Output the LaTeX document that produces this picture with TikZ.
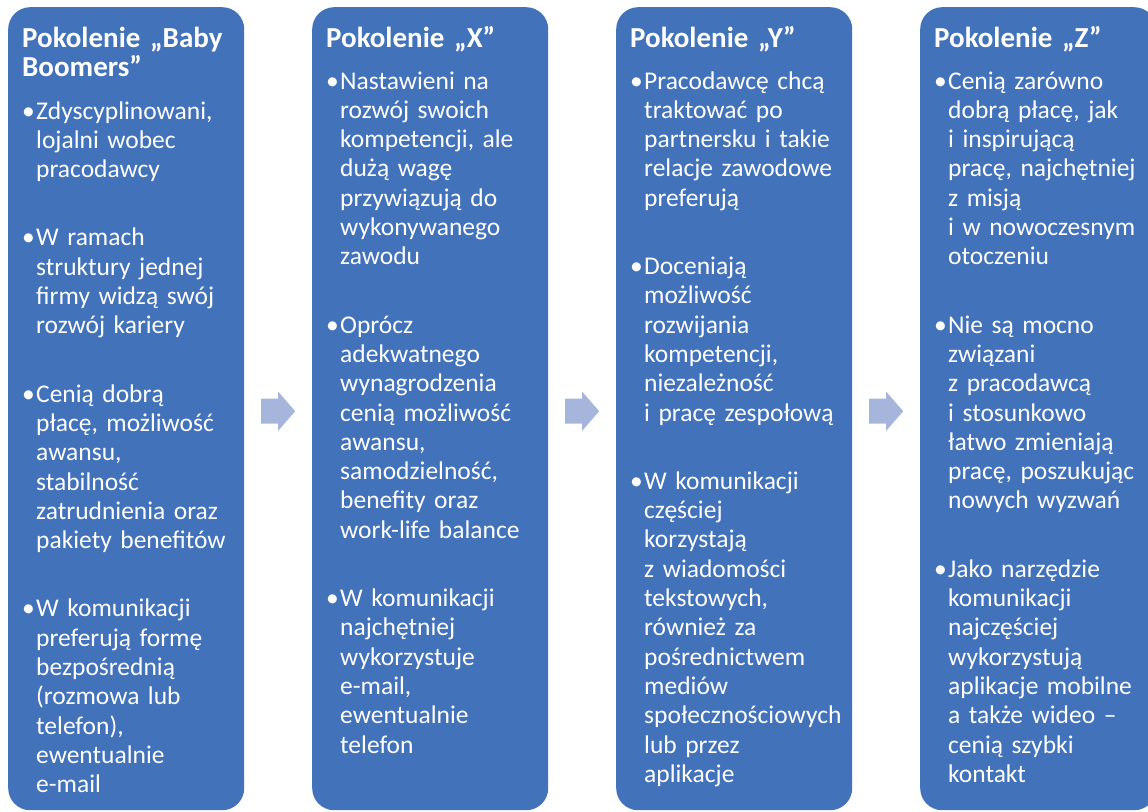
\documentclass[tikz,border=0pt]{standalone}
\usepackage{fontspec}
\setmainfont{Carlito}
\usepackage{tikz}
\usetikzlibrary{positioning, calc}

\definecolor{boxblue}{RGB}{65, 114, 186}
\definecolor{arrowblue}{RGB}{166, 181, 219}

\newcommand{\bitem}[1]{\hangindent=14pt\hangafter=1\noindent\makebox[14pt][l]{•}{\let\\\newline#1}\par}

\tikzset{
  genbox/.style={fill=boxblue, rounded corners=22pt, minimum width=236pt, minimum height=803pt, anchor=north west, inner sep=0pt},
  gentitle/.style={text=white, font=\fontsize{29}{29}\selectfont\bfseries, text width=225pt, align=left, anchor=base west, inner sep=0pt},
  genlist/.style={text=white, font=\fontsize{25.5}{29.3}\selectfont, text width=260pt, align=left, anchor=base west, inner sep=0pt},
  pics/flowarrow/.style={code={
    \fill[arrowblue] (-17,-12.5) -- (0,-12.5) -- (0,-19.5) -- (17,0) -- (0,19.5) -- (0,12.5) -- (-17,12.5) -- cycle;
  }}
}

\begin{document}
\begin{tikzpicture}[x=1pt, y=-1pt]
  \path[use as bounding box, clip] (0,0) rectangle (1148,811);

  % Four generation columns
  \node[genbox] (g1) at (8,7) {};
  \node[genbox] (g2) at (312,7) {};
  \node[genbox] (g3) at (616,7) {};
  \node[genbox] (g4) at (920,7) {};

  % Arrows between columns
  \pic at ($(g1.east)!0.5!(g2.west)+(0,2.5)$) {flowarrow};
  \pic at ($(g2.east)!0.5!(g3.west)+(0,2.5)$) {flowarrow};
  \pic at ($(g3.east)!0.5!(g4.west)+(0,2.5)$) {flowarrow};

  % Baby Boomers
  \node[gentitle] (t1) at ($(g1.north west)+(14,40)$) {Pokolenie „Baby\\Boomers”};
  \node[genlist] (l1) at ($(g1.north west)+(14,112)$) {\setlength{\parskip}{39pt}%
    \bitem{Zdyscyplinowani,\\lojalni wobec\\pracodawcy}
    \bitem{W ramach\\struktury jednej\\firmy widzą swój\\rozwój kariery}
    \bitem{Cenią dobrą\\płacę, możliwość\\awansu,\\stabilność\\zatrudnienia oraz\\pakiety benefitów}
    \bitem{W komunikacji\\preferują formę\\bezpośrednią\\(rozmowa lub\\telefon),\\ewentualnie\\e-mail}};

  % X
  \node[gentitle] (t2) at ($(g2.north west)+(14,40)$) {Pokolenie „X”};
  \node[genlist] (l2) at ($(g2.north west)+(14,82)$) {\setlength{\parskip}{39pt}%
    \bitem{Nastawieni na\\rozwój swoich\\kompetencji, ale\\dużą wagę\\przywiązują do\\wykonywanego\\zawodu}
    \bitem{Oprócz\\adekwatnego\\wynagrodzenia\\cenią możliwość\\awansu,\\samodzielność,\\benefity oraz\\work-life balance}
    \bitem{W komunikacji\\najchętniej\\wykorzystuje\\e-mail,\\ewentualnie\\telefon}};

  % Y
  \node[gentitle] (t3) at ($(g3.north west)+(14,40)$) {Pokolenie „Y”};
  \node[genlist] (l3) at ($(g3.north west)+(14,82)$) {\setlength{\parskip}{39pt}%
    \bitem{Pracodawcę chcą\\traktować po\\partnersku i takie\\relacje zawodowe\\preferują}
    \bitem{Doceniają\\możliwość\\rozwijania\\kompetencji,\\niezależność\\i pracę zespołową}
    \bitem{W komunikacji\\częściej\\korzystają\\z wiadomości\\tekstowych,\\również za\\pośrednictwem\\mediów\\społecznościowych\\lub przez\\aplikacje}};

  % Z
  \node[gentitle] (t4) at ($(g4.north west)+(14,40)$) {Pokolenie „Z”};
  \node[genlist] (l4) at ($(g4.north west)+(14,82)$) {\setlength{\parskip}{39pt}%
    \bitem{Cenią zarówno\\dobrą płacę, jak\\i inspirującą\\pracę, najchętniej\\z misją\\i w nowoczesnym\\otoczeniu}
    \bitem{Nie są mocno\\związani\\z pracodawcą\\i stosunkowo\\łatwo zmieniają\\pracę, poszukując\\nowych wyzwań}
    \bitem{Jako narzędzie\\komunikacji\\najczęściej\\wykorzystują\\aplikacje mobilne\\a także wideo –\\cenią szybki\\kontakt}};
\end{tikzpicture}
\end{document}
